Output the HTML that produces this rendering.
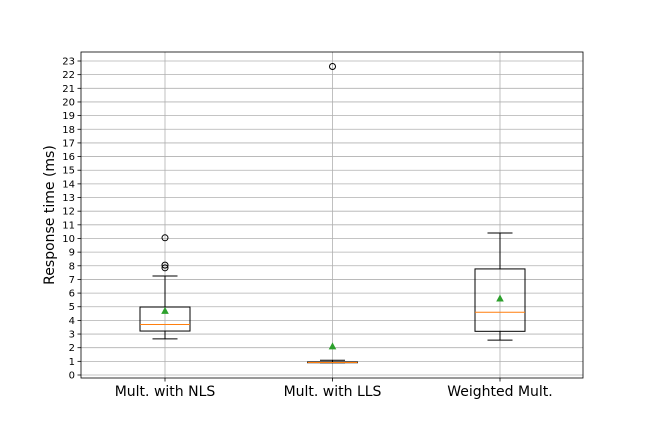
<!DOCTYPE html>
<html><head><meta charset="utf-8"><style>
body{margin:0;background:#fff;font-family:"DejaVu Sans","Liberation Sans",sans-serif}
svg text{font-family:"DejaVu Sans","Liberation Sans",sans-serif}
</style></head><body>
<svg id="c" width="648" height="432"></svg>
<script>
const categories=["Mult. with NLS","Mult. with LLS","Weighted Mult."];
const q1=[3.22,0.9,3.2];
const q3=[4.98,0.95,7.77];
const medians=[3.7,0.92,4.6];
const whiskLow=[2.65,0.9,2.55];
const whiskHigh=[7.25,1.08,10.4];
const means=[4.7,2.1,5.6];
const outliers=[[7.85,8.05,10.05],[22.6],[]];
const yTicks=[...Array(24).keys()];
const L=81,R=583,T=52,B=378;
const y=v=>375-v*13.652;
const xc=i=>165+i*((500-165)/2);
const svg=document.getElementById('c');const NS="http://www.w3.org/2000/svg";
function mk(t,a,p){const e=document.createElementNS(NS,t);for(const k in a)e.setAttribute(k,a[k]);(p||svg).appendChild(e);return e;}
yTicks.forEach(v=>{
 const g=mk('line',{x1:L,x2:R,y1:y(v),y2:y(v),stroke:'#b0b0b0','stroke-width':0.8});
 
 
 mk('line',{x1:L-3.5,x2:L,y1:y(v),y2:y(v),stroke:'#000','stroke-width':0.8});
 const t=mk('text',{x:L-6,y:y(v)+3.5,'text-anchor':'end','font-size':10});t.textContent=v;
 
 
});
categories.forEach((c,i)=>{
 const cx=xc(i);
 const g=mk('line',{x1:cx,x2:cx,y1:T,y2:B,stroke:'#b0b0b0','stroke-width':0.8});
 
 
 mk('line',{x1:cx,x2:cx,y1:B,y2:B+3.5,stroke:'#000','stroke-width':0.8});
 const t=mk('text',{x:cx,y:396,'text-anchor':'middle','font-size':14});t.textContent=c;
 
 
 const grp=mk('g',{});
 
 
 const k={stroke:'#000','stroke-width':1,fill:'none'};
 mk('line',Object.assign({x1:cx,x2:cx,y1:y(q3[i]),y2:y(whiskHigh[i])},k),grp);
 mk('line',Object.assign({x1:cx,x2:cx,y1:y(q1[i]),y2:y(whiskLow[i])},k),grp);
 mk('line',Object.assign({x1:cx-12.5,x2:cx+12.5,y1:y(whiskHigh[i]),y2:y(whiskHigh[i])},k),grp);
 mk('line',Object.assign({x1:cx-12.5,x2:cx+12.5,y1:y(whiskLow[i]),y2:y(whiskLow[i])},k),grp);
 mk('rect',Object.assign({x:cx-25,y:y(q3[i]),width:50,height:Math.max(0.5,y(q1[i])-y(q3[i]))},k),grp);
 mk('line',{x1:cx-25,x2:cx+25,y1:y(medians[i]),y2:y(medians[i]),stroke:'#ff7f0e','stroke-width':1},grp);
 const my=y(means[i]);
 mk('polygon',{points:`${cx},${my-4} ${cx-3.8},${my+3} ${cx+3.8},${my+3}`,fill:'#2ca02c'},grp);
 outliers[i].forEach(o=>mk('circle',{cx:cx,cy:y(o),r:3,fill:'none',stroke:'#000','stroke-width':1},grp));
});
const fr=mk('rect',{x:L,y:T,width:R-L,height:B-T,fill:'none',stroke:'#000','stroke-width':0.8});


const yl=mk('text',{x:0,y:0,'font-size':14,'text-anchor':'middle',transform:`translate(54,${(T+B)/2}) rotate(-90)`});
yl.textContent='Response time (ms)';


</script>
</body></html>
